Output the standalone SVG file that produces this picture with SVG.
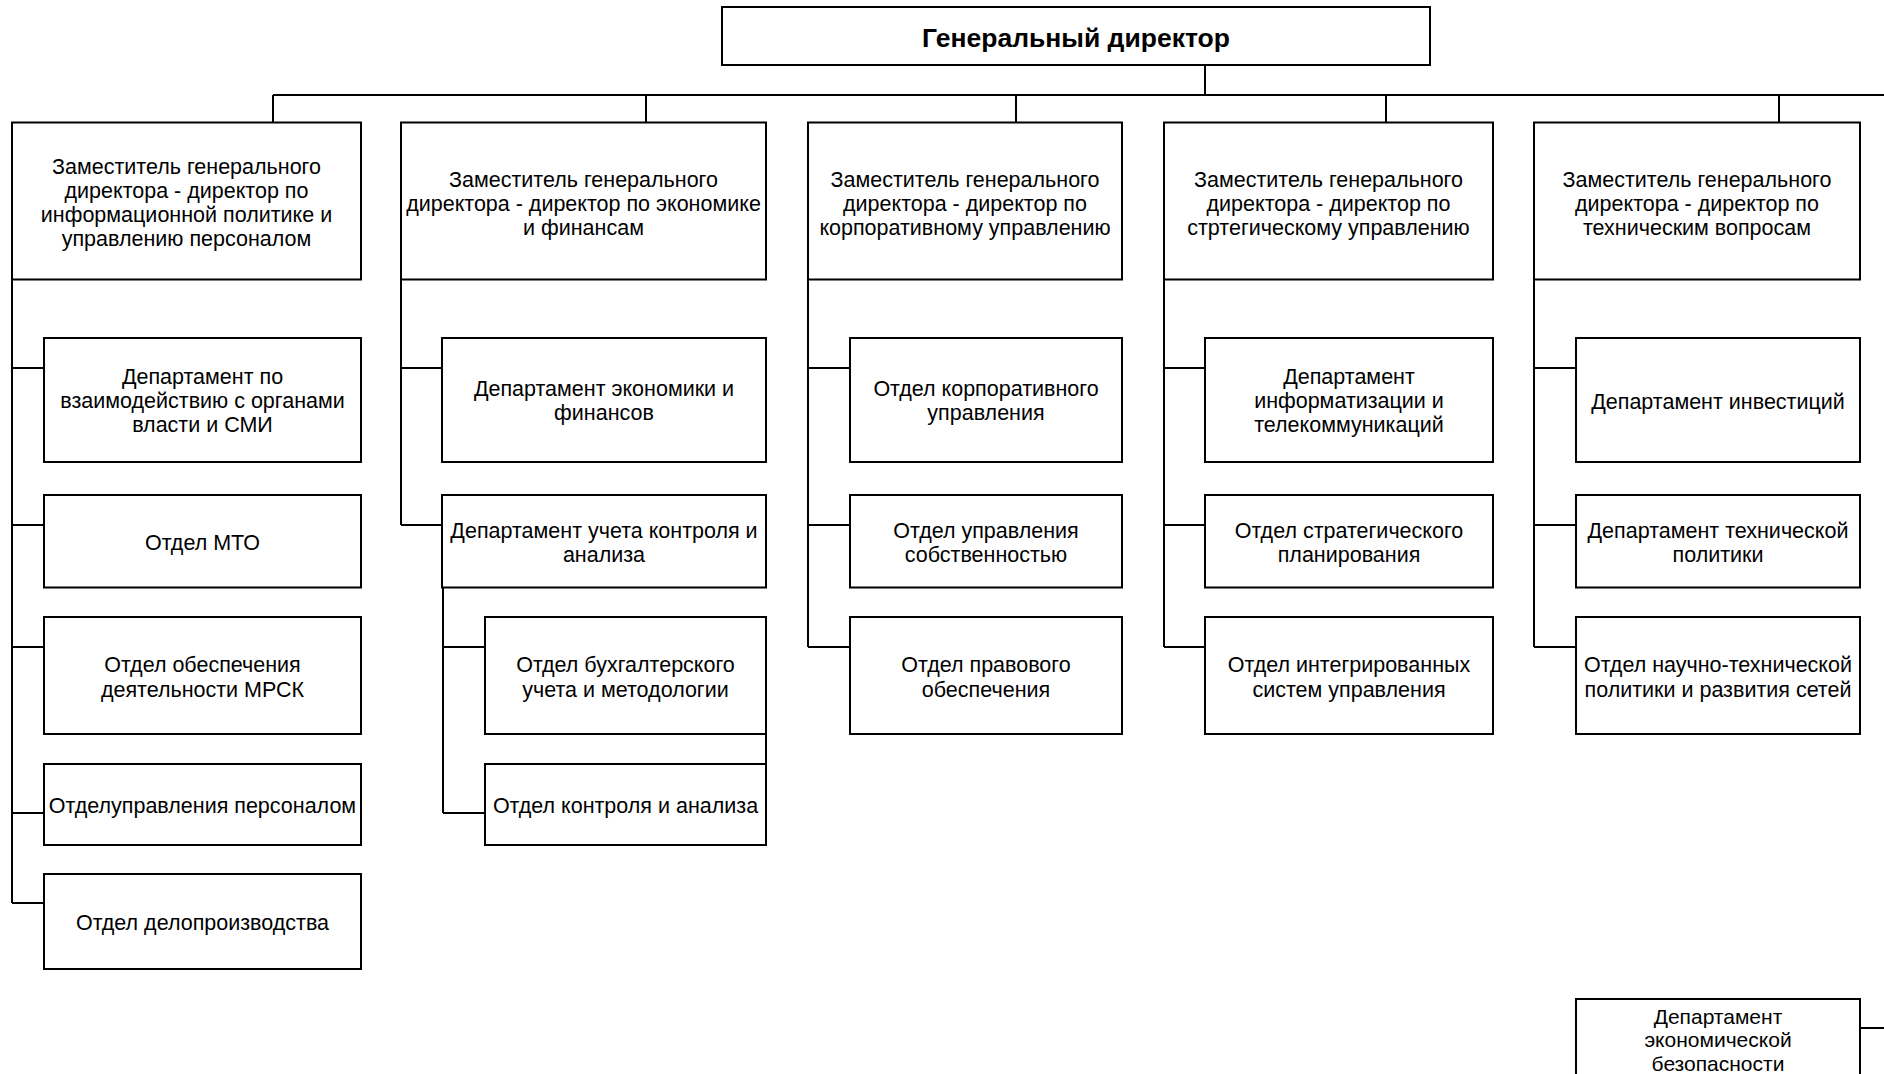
<svg xmlns="http://www.w3.org/2000/svg" width="1884" height="1074" viewBox="0 0 1884 1074">
<style>
.box{fill:#fff;stroke:#000;stroke-width:2}
.t{font-family:"Liberation Sans",Arial,sans-serif;font-size:21.5px;fill:#000;text-anchor:middle}
.title{font-family:"Liberation Sans",Arial,sans-serif;font-size:26.5px;font-weight:bold;fill:#000;text-anchor:middle}
.c{fill:none;stroke:#000;stroke-width:2}
</style>
<rect width="1884" height="1074" fill="#fff"/>
<g id="connectors">
<path class="c" d="M1205 65V95M273 95H1884M273 95V122.5M646 95V122.5M1016 95V122.5M1386 95V122.5M1779 95V122.5"/>
<path class="c" d="M12 279.5V903M12 368H44M12 525H44M12 647H44M12 813H44M12 903H44"/>
<path class="c" d="M401 279.5V525M401 368H442M401 525H442M443 587.5V813M443 647H485M443 813H485M766 734V764"/>
<path class="c" d="M808 279.5V647M808 368H850M808 525H850M808 647H850"/>
<path class="c" d="M1164 279.5V647M1164 368H1205M1164 525H1205M1164 647H1205"/>
<path class="c" d="M1534 279.5V647M1534 368H1576M1534 525H1576M1534 647H1576"/>
<path class="c" d="M1860 1028H1884"/>
</g>
<g id="gen-director"><rect class="box" x="722" y="7" width="708" height="58"/><text class="title" x="1076" y="46.5">Генеральный директор</text></g>

<g id="dep-info"><rect class="box" x="12" y="122.5" width="349" height="157"/><text class="t" x="186.5" y="173.5">Заместитель генерального<tspan x="186.5" y="197.5">директора - директор по</tspan><tspan x="186.5" y="221.5">информационной политике и</tspan><tspan x="186.5" y="245.5">управлению персоналом</tspan></text></g>
<g id="dep-econ"><rect class="box" x="401" y="122.5" width="365" height="157"/><text class="t" x="583.5" y="186.5">Заместитель генерального<tspan x="583.5" y="210.5">директора - директор по экономике</tspan><tspan x="583.5" y="234.5">и финансам</tspan></text></g>
<g id="dep-corp"><rect class="box" x="808" y="122.5" width="314" height="157"/><text class="t" x="965" y="186.5">Заместитель генерального<tspan x="965" y="210.5">директора - директор по</tspan><tspan x="965" y="234.5">корпоративному управлению</tspan></text></g>
<g id="dep-strat"><rect class="box" x="1164" y="122.5" width="329" height="157"/><text class="t" x="1328.5" y="186.5">Заместитель генерального<tspan x="1328.5" y="210.5">директора - директор по</tspan><tspan x="1328.5" y="234.5">стртегическому управлению</tspan></text></g>
<g id="dep-tech"><rect class="box" x="1534" y="122.5" width="326" height="157"/><text class="t" x="1697" y="186.5">Заместитель генерального<tspan x="1697" y="210.5">директора - директор по</tspan><tspan x="1697" y="234.5">техническим вопросам</tspan></text></g>

<g id="n-smi"><rect class="box" x="44" y="338" width="317" height="124"/><text class="t" x="202.5" y="383.5">Департамент по<tspan x="202.5" y="407.5">взаимодействию с органами</tspan><tspan x="202.5" y="431.5">власти и СМИ</tspan></text></g>
<g id="n-mto"><rect class="box" x="44" y="495" width="317" height="92.5"/><text class="t" x="202.5" y="549.5">Отдел МТО</text></g>
<g id="n-mrsk"><rect class="box" x="44" y="617" width="317" height="117"/><text class="t" x="202.5" y="671.5">Отдел обеспечения<tspan x="202.5" y="696.5">деятельности МРСК</tspan></text></g>
<g id="n-pers"><rect class="box" x="44" y="764" width="317" height="81"/><text class="t" x="202.5" y="812.5">Отделуправления персоналом</text></g>
<g id="n-delo"><rect class="box" x="44" y="874" width="317" height="95"/><text class="t" x="202.5" y="929.5">Отдел делопроизводства</text></g>

<g id="n-ecfin"><rect class="box" x="442" y="338" width="324" height="124"/><text class="t" x="604" y="395.5">Департамент экономики и<tspan x="604" y="419.5">финансов</tspan></text></g>
<g id="n-uchet"><rect class="box" x="442" y="495" width="324" height="92.5"/><text class="t" x="604" y="537.5">Департамент учета контроля и<tspan x="604" y="561.5">анализа</tspan></text></g>
<g id="n-buh"><rect class="box" x="485" y="617" width="281" height="117"/><text class="t" x="625.5" y="671.5">Отдел бухгалтерского<tspan x="625.5" y="696.5">учета и методологии</tspan></text></g>
<g id="n-kontr"><rect class="box" x="485" y="764" width="281" height="81"/><text class="t" x="625.5" y="812.5">Отдел контроля и анализа</text></g>

<g id="n-corp"><rect class="box" x="850" y="338" width="272" height="124"/><text class="t" x="986" y="395.5">Отдел корпоративного<tspan x="986" y="419.5">управления</tspan></text></g>
<g id="n-sobst"><rect class="box" x="850" y="495" width="272" height="92.5"/><text class="t" x="986" y="537.5">Отдел управления<tspan x="986" y="561.5">собственностью</tspan></text></g>
<g id="n-prav"><rect class="box" x="850" y="617" width="272" height="117"/><text class="t" x="986" y="671.5">Отдел правового<tspan x="986" y="696.5">обеспечения</tspan></text></g>

<g id="n-inform"><rect class="box" x="1205" y="338" width="288" height="124"/><text class="t" x="1349" y="383.5">Департамент<tspan x="1349" y="407.5">информатизации и</tspan><tspan x="1349" y="431.5">телекоммуникаций</tspan></text></g>
<g id="n-plan"><rect class="box" x="1205" y="495" width="288" height="92.5"/><text class="t" x="1349" y="537.5">Отдел стратегического<tspan x="1349" y="561.5">планирования</tspan></text></g>
<g id="n-isu"><rect class="box" x="1205" y="617" width="288" height="117"/><text class="t" x="1349" y="671.5">Отдел интегрированных<tspan x="1349" y="696.5">систем управления</tspan></text></g>

<g id="n-invest"><rect class="box" x="1576" y="338" width="284" height="124"/><text class="t" x="1718" y="408.5">Департамент инвестиций</text></g>
<g id="n-techpol"><rect class="box" x="1576" y="495" width="284" height="92.5"/><text class="t" x="1718" y="537.5">Департамент технической<tspan x="1718" y="561.5">политики</tspan></text></g>
<g id="n-nauch"><rect class="box" x="1576" y="617" width="284" height="117"/><text class="t" x="1718" y="671.5">Отдел научно-технической<tspan x="1718" y="696.5">политики и развития сетей</tspan></text></g>

<g id="n-bezop"><rect class="box" x="1576" y="999" width="284" height="100"/><text class="t" x="1718" y="1024" style="font-size:21px">Департамент<tspan x="1718" y="1047">экономической</tspan><tspan x="1718" y="1071">безопасности</tspan></text></g>
</svg>
